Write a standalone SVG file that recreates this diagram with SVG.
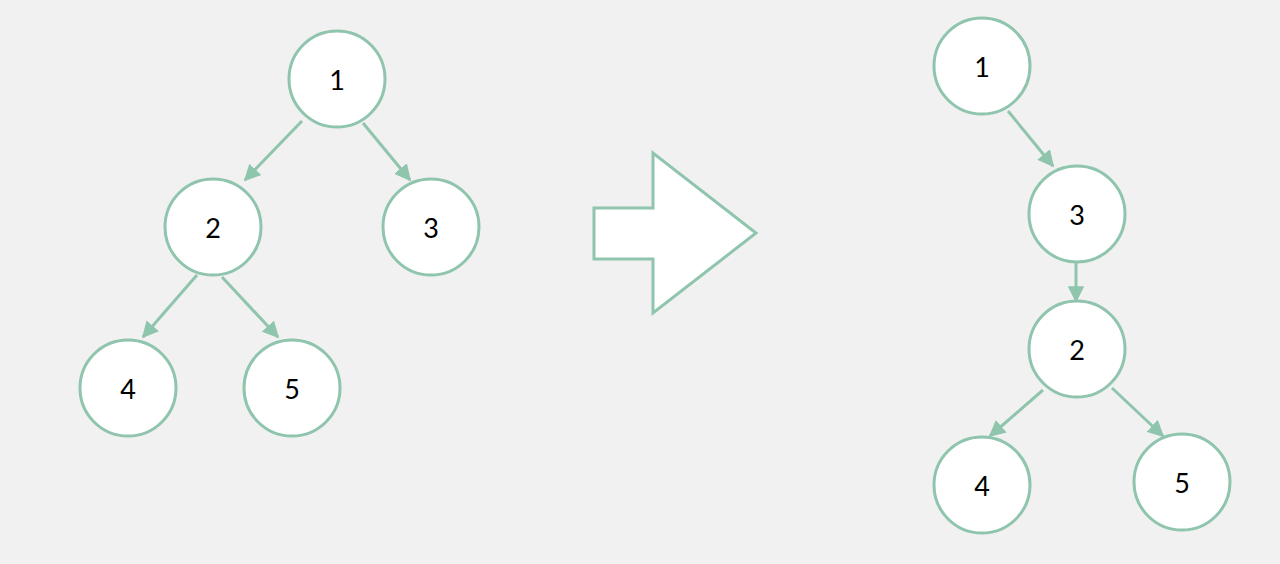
<svg xmlns="http://www.w3.org/2000/svg" width="1280" height="564" viewBox="0 0 1280 564">
  <style>
    .node circle { fill: #ffffff; stroke: #8fc4ad; stroke-width: 3; }
    .node text { font-family: "Lato", "Liberation Sans", sans-serif; font-size: 27px; fill: #000000; text-anchor: middle; dominant-baseline: central; }
    .edge { stroke: #8fc4ad; stroke-width: 3; fill: none; marker-end: url(#ah); }
  </style>
  <defs>
    <marker id="ah" viewBox="0 0 10 10" refX="9" refY="5" markerWidth="5.5" markerHeight="5.5" orient="auto" markerUnits="strokeWidth">
      <path d="M0,0 L10,5 L0,10 z" fill="#8fc4ad"/>
    </marker>
  </defs>
  <rect width="1280" height="564" fill="#f1f1f1"/>
  <g id="connectors">
    <line class="edge" x1="302" y1="121" x2="245" y2="180"/>
    <line class="edge" x1="363" y1="123" x2="410" y2="180"/>
    <line class="edge" x1="197" y1="275" x2="143" y2="337"/>
    <line class="edge" x1="222" y1="277" x2="278" y2="337"/>
    <line class="edge" x1="1008" y1="111" x2="1053" y2="166"/>
    <line class="edge" x1="1076" y1="262" x2="1076" y2="301"/>
    <line class="edge" x1="1043" y1="390" x2="990" y2="436"/>
    <line class="edge" x1="1112" y1="388" x2="1163" y2="436"/>
  </g>
  <g id="big-arrow">
    <polygon points="594,208 653,208 653,153 756,233 653,313 653,259 594,259" fill="#ffffff" stroke="#8fc4ad" stroke-width="3" stroke-linejoin="miter"/>
  </g>
  <g id="L1" class="node"><circle cx="337" cy="79" r="48"/><text x="337" y="79">1</text></g>
  <g id="L2" class="node"><circle cx="213" cy="227" r="48"/><text x="213" y="227">2</text></g>
  <g id="L3" class="node"><circle cx="431" cy="227" r="48"/><text x="431" y="227">3</text></g>
  <g id="L4" class="node"><circle cx="128" cy="388" r="48"/><text x="128" y="388">4</text></g>
  <g id="L5" class="node"><circle cx="292" cy="388" r="48"/><text x="292" y="388">5</text></g>
  <g id="R1" class="node"><circle cx="982" cy="66" r="48"/><text x="982" y="66">1</text></g>
  <g id="R3" class="node"><circle cx="1077" cy="214" r="48"/><text x="1077" y="214">3</text></g>
  <g id="R2" class="node"><circle cx="1077" cy="349" r="48"/><text x="1077" y="349">2</text></g>
  <g id="R4" class="node"><circle cx="982" cy="485" r="48"/><text x="982" y="485">4</text></g>
  <g id="R5" class="node"><circle cx="1182" cy="482" r="48"/><text x="1182" y="482">5</text></g>
</svg>
